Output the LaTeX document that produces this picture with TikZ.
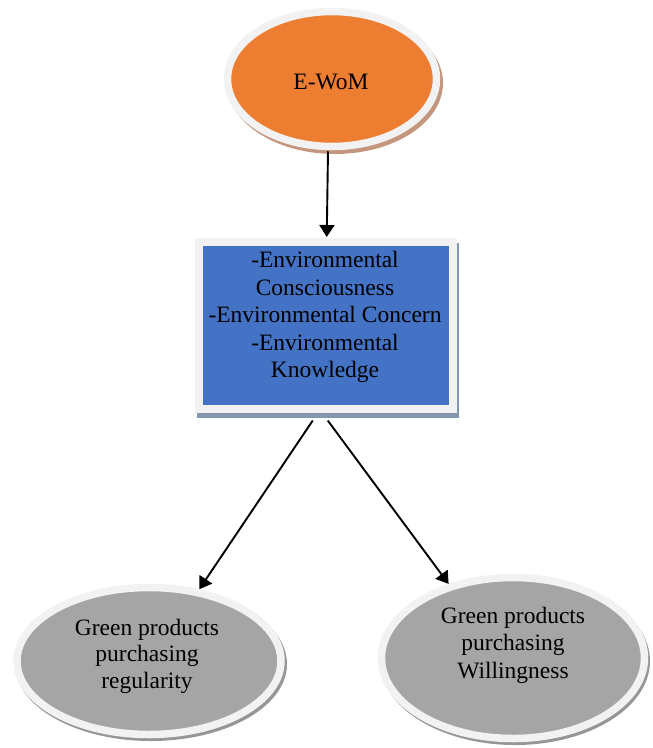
\documentclass[tikz,border=0pt]{standalone}
\usepackage{fontspec}
\setmainfont{Liberation Serif}
\usetikzlibrary{shapes.geometric,arrows.meta}
\definecolor{borderc}{HTML}{F2F2F2}
\definecolor{orangec}{HTML}{ED7D31}
\definecolor{orangesh}{RGB}{196,150,125}
\definecolor{bluec}{HTML}{4472C4}
\definecolor{bluesh}{RGB}{132,151,176}
\definecolor{grayc}{HTML}{A5A5A5}
\definecolor{graysh}{RGB}{150,150,150}
\tikzset{
  x=1pt,y=1pt,
  oval/.style={ellipse,inner sep=0pt,draw=borderc,line width=7.5pt},
  rectbox/.style={rectangle,inner sep=0pt,draw=borderc,line width=8pt},
  lbl/.style={align=center,inner sep=0pt,font=\fontsize{23.5}{27.5}\selectfont},
  arr/.style={line width=1.9pt,-{Triangle[length=12pt,width=15pt]}}
}
\begin{document}
\begin{tikzpicture}
\useasboundingbox (0,0) rectangle (653,-748);
% shadows
\fill[orangesh] (335,-83) ellipse [x radius=108, y radius=71];
\fill[bluesh] (197,-243) rectangle (459,-418);
\fill[graysh] (151,-664) ellipse [x radius=136, y radius=77];
\fill[graysh] (515,-661) ellipse [x radius=135, y radius=84];
% nodes
\node[oval,fill=orangec,minimum width=209,minimum height=135] (ewom) at (332,-79) {};
\node[rectbox,fill=bluec,minimum width=253.5,minimum height=166.5] (box) at (325.75,-325.25) {};
\node[oval,fill=grayc,minimum width=264,minimum height=147] (reg) at (149,-661) {};
\node[oval,fill=grayc,minimum width=263,minimum height=161] (will) at (513,-658) {};
% labels
\node[lbl] (ewomt) at (331,-82) {E-WoM};
\node[lbl] (boxt) at (325,-317) {-Environmental\\Consciousness\\-Environmental Concern\\-Environmental\\Knowledge};
\node[lbl,font=\fontsize{23.5}{26.5}\selectfont] (regt) at (147,-656) {Green products\\purchasing\\regularity};
\node[lbl] (willt) at (513,-645) {Green products\\purchasing\\Willingness};
% connectors
\draw[arr] ([xshift=-4pt,yshift=-1pt]ewom.south) -- ([xshift=1pt,yshift=1pt]box.north);
\draw[arr] ([xshift=-13pt,yshift=-8pt]box.south) -- (reg.55);
\draw[arr] ([xshift=2pt,yshift=-8pt]box.south) -- (will.131);
\end{tikzpicture}
\end{document}
